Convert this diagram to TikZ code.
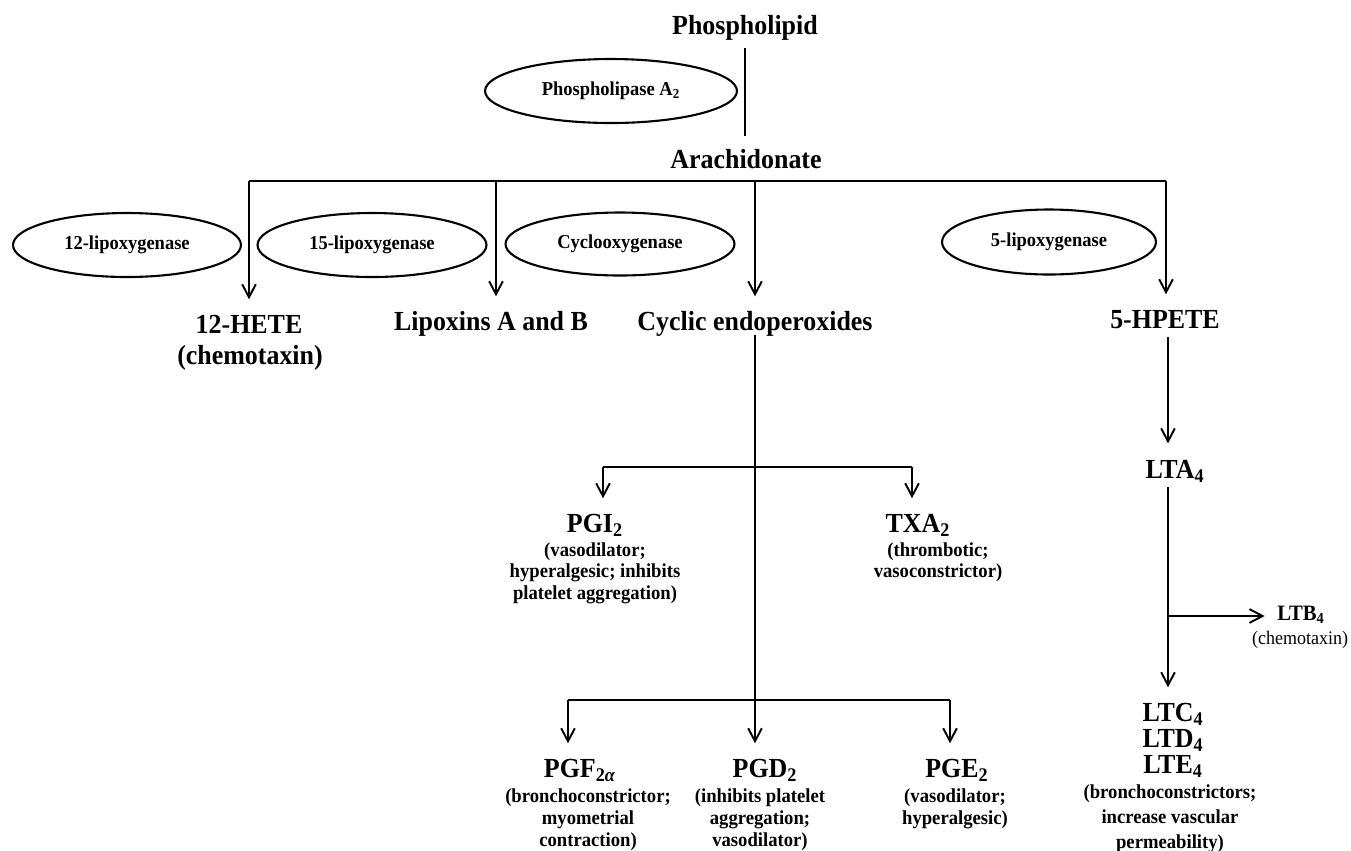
\documentclass[tikz,border=0pt]{standalone}
\usepackage{fontspec}
\setmainfont{Liberation Serif}[FakeStretch=0.94]
\usetikzlibrary{shapes.geometric,arrows.meta}
\begin{document}
\begin{tikzpicture}[x=0.02cm,y=-0.02cm,
  ttl/.style={font=\fontsize{15.7}{18}\selectfont\bfseries, inner sep=0pt, outer sep=0pt, text height=10.7pt, text depth=3pt},
  ttlfree/.style={font=\fontsize{15.7}{18}\selectfont\bfseries, inner sep=0pt, outer sep=0pt},
  desc/.style={font=\fontsize{11.3}{12.4}\selectfont\bfseries, inner sep=0pt, align=center},
  descb/.style={font=\fontsize{11.3}{12.5}\selectfont\bfseries, inner sep=0pt, align=center},
  descl/.style={font=\fontsize{11.3}{14.2}\selectfont\bfseries, inner sep=0pt, align=center},
  enz/.style={draw, ellipse, line width=1.2pt, inner sep=0pt, font=\fontsize{11.2}{13}\selectfont\bfseries},
  ln/.style={line width=1.1pt},
  hb/.style={line width=1.6pt},
  arr/.style={line width=1.1pt, -{Straight Barb[length=7.4pt,width=7.8pt]}},
]
\useasboundingbox (0,0) rectangle (1351,850);

% top
\node[ttl, anchor=base] (phos) at (745,34) {Phospholipid};
\node[ttl, anchor=base] (arach) at (746,168) {Arachidonate};
\node[enz, minimum width=5.04cm, minimum height=1.28cm] (pla) at (611,91) {Phospholipase A\textsubscript{2}};
\draw[ln, shorten <=5pt, shorten >=7.4pt] (phos.south) -- (phos.south |- arach.north);

% enzymes
\node[enz, minimum width=4.56cm, minimum height=1.28cm] (e12) at (127,245) {12-lipoxygenase};
\node[enz, minimum width=4.58cm, minimum height=1.28cm] (e15) at (372,245) {15-lipoxygenase};
\node[enz, minimum width=4.58cm, minimum height=1.26cm] (ecox) at (620,244) {Cyclooxygenase};
\node[enz, minimum width=4.28cm, minimum height=1.30cm] (e5) at (1049,242) {5-lipoxygenase};

% products of arachidonate
\node[ttl, anchor=base] (hete) at (249,333) {12-HETE};
\node[ttlfree, anchor=base] (hetec) at (250,364) {(chemotaxin)};
\node[ttl, anchor=base] (lipox) at (491,330) {Lipoxins A and B};
\node[ttl, anchor=base] (cyc) at (755,330) {Cyclic endoperoxides};
\node[ttl, anchor=base] (hpete) at (1165,328) {5-HPETE};

\coordinate (tl) at (249,181);
\coordinate (t2) at (496,181);
\coordinate (tr) at (1166,181);
\draw[hb] (tl) -- (tr);
\draw[arr, shorten >=8.5pt] (tl) -- (tl |- hete.north);
\draw[arr, shorten >=8.5pt] (t2) -- (t2 |- lipox.north);
\draw[arr, shorten >=8.5pt] (cyc.north |- tl) -- (cyc.north);
\draw[arr, shorten >=8.5pt] (tr) -- (tr |- hpete.north);

% first cyclic branch
\node[ttl, anchor=base] (pgi) at (595,532) {PGI\textsubscript{2}};
\node[desc, anchor=north] (pgid) at (595,542) {(vasodilator;\\hyperalgesic; inhibits\\platelet aggregation)};
\node[ttl, anchor=base] (txa) at (918,532) {TXA\textsubscript{2}};
\node[desc, anchor=north] (txad) at (938,542) {(thrombotic;\\vasoconstrictor)};
\coordinate (b1l) at (603,467);
\coordinate (b1r) at (912,467);
\draw[hb] (b1l) -- (b1r);
\draw[arr, shorten >=8.5pt] (b1l) -- (b1l |- pgi.north);
\draw[arr, shorten >=8.5pt] (b1r) -- (b1r |- txa.north);

% second cyclic branch
\node[ttl, anchor=base] (pgf) at (580,777) {PGF\textsubscript{2\textit{α}}};
\node[descb, anchor=north] (pgfd) at (588,788) {(bronchoconstrictor;\\myometrial\\contraction)};
\node[ttl, anchor=base] (pgd) at (765,777) {PGD\textsubscript{2}};
\node[descb, anchor=north] (pgdd) at (760,788) {(inhibits platelet\\aggregation;\\vasodilator)};
\node[ttl, anchor=base] (pge) at (957,777) {PGE\textsubscript{2}};
\node[descb, anchor=north] (pged) at (955,788) {(vasodilator;\\hyperalgesic)};
\coordinate (b2l) at (568,700);
\coordinate (b2r) at (950,700);
\draw[hb] (b2l) -- (b2r);
\draw[arr, shorten >=8.5pt] (b2l) -- (b2l |- pgf.north);
\draw[arr, shorten >=8.5pt] (b2r) -- (b2r |- pge.north);
\draw[arr, shorten >=8.5pt] (cyc.south) -- (cyc.south |- pgd.north);

% leukotrienes
\coordinate (vx) at (1168,0);
\node[ttl, anchor=base] (lta) at (1175,478) {LTA\textsubscript{4}};
\draw[arr, shorten <=2.3pt, shorten >=9pt] (vx |- hpete.south) -- (vx |- lta.north);
\node[ttl, anchor=base] (ltc) at (1173,721) {LTC\textsubscript{4}};
\node[ttl, anchor=base] (ltd) at (1173,747) {LTD\textsubscript{4}};
\node[ttl, anchor=base] (lte) at (1173,773) {LTE\textsubscript{4}};
\node[descl, anchor=north] (ltdd) at (1170,784) {(bronchoconstrictors;\\increase vascular\\permeability)};
\draw[arr, shorten <=2pt, shorten >=8.5pt] (vx |- lta.south) -- (vx |- ltc.north);
\coordinate (lb) at (1168,616);
\node[font=\fontsize{12.5}{14}\selectfont\bfseries, inner sep=0pt, anchor=base] (ltb) at (1301,620) {LTB\textsubscript{4}};
\node[font=\fontsize{10.9}{13}\selectfont, inner sep=0pt, anchor=base] (ltbc) at (1300,644) {(chemotaxin)};
\draw[arr, shorten >=7pt] (lb) -- (lb -| ltb.west);
\end{tikzpicture}
\end{document}
